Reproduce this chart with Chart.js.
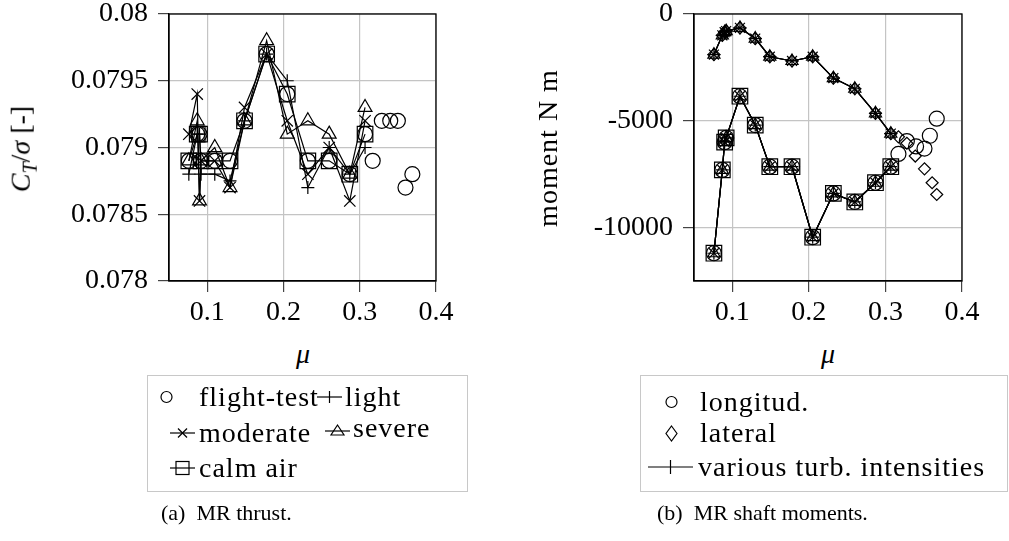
<!DOCTYPE html>
<html>
<head>
<meta charset="utf-8">
<script src="https://cdn.jsdelivr.net/npm/chart.js@4.4.0/dist/chart.umd.min.js"></script>
<style>
body { margin: 0; background: #fff; }
#page { position: relative; width: 1009px; height: 541px; overflow: hidden; font-family: 'Liberation Serif', 'DejaVu Serif', 'Times New Roman', serif; color: #000; }
canvas { position: absolute; top: 0; }
.lbl { position: absolute; font-size: 28px; line-height: 32px; white-space: nowrap; }
.leg { letter-spacing: 1px; }
.rot { transform: translate(-50%, -50%) rotate(-90deg); }
.cap { position: absolute; font-size: 22px; line-height: 24px; white-space: nowrap; }
.box { position: absolute; border: 1px solid #c8c8c8; }
svg { position: absolute; overflow: visible; }
</style>
</head>
<body>
<div id="page">
  <canvas id="grafico01" width="480" height="330" style="left:0px"></canvas>
  <canvas id="grafico02" width="509" height="330" style="left:500px"></canvas>

  <div class="lbl rot" style="left:25px; top:149px"><i>C</i><sub style="font-size:20px"><i>T</i></sub>/<i>σ</i> [-]</div>
  <div class="lbl" style="left:296px; top:338px"><i>μ</i></div>
  <div class="lbl rot leg" style="left:548px; top:148px">moment N m</div>
  <div class="lbl" style="left:821px; top:338px"><i>μ</i></div>

  <!-- legend (a) -->
  <div class="box" style="left:147px; top:375px; width:319px; height:115px"></div>
  <svg style="left:0; top:0" width="1009" height="541">
    <g fill="none" stroke="#000" stroke-width="1.2">
      <circle cx="166.5" cy="397" r="5.5"/>
      <line x1="317" y1="397" x2="342" y2="397"/><line x1="329.5" y1="391" x2="329.5" y2="403"/>
      <line x1="170" y1="433" x2="195" y2="433"/><line x1="178" y1="428.5" x2="187" y2="437.5"/><line x1="178" y1="437.5" x2="187" y2="428.5"/>
      <line x1="325" y1="431" x2="350" y2="431"/><path d="M337.5 425 L344 435 L331 435 Z"/>
      <line x1="170" y1="468" x2="195" y2="468"/><rect x="176" y="461.5" width="13" height="13"/>
      <circle cx="671.5" cy="402" r="5.5"/>
      <path d="M671.5 426 L677 433.5 L671.5 441 L666 433.5 Z"/>
      <line x1="648" y1="467" x2="693" y2="467"/><line x1="670.5" y1="460" x2="670.5" y2="474"/>
    </g>
  </svg>
  <div class="lbl leg" style="left:199px; top:381px">flight-test</div>
  <div class="lbl leg" style="left:345px; top:381px">light</div>
  <div class="lbl leg" style="left:199px; top:417px">moderate</div>
  <div class="lbl leg" style="left:353px; top:412px">severe</div>
  <div class="lbl leg" style="left:199px; top:452px">calm air</div>
  <div class="cap" style="left:161px; top:501px">(a)&nbsp; MR thrust.</div>

  <!-- legend (b) -->
  <div class="box" style="left:640px; top:375px; width:366px; height:115px"></div>
  <div class="lbl leg" style="left:700px; top:386px">longitud.</div>
  <div class="lbl leg" style="left:700px; top:417px">lateral</div>
  <div class="lbl leg" style="left:698px; top:451px">various turb. intensities</div>
  <div class="cap" style="left:657px; top:501px">(b)&nbsp; MR shaft moments.</div>
</div>

<script>
// advance ratio of the simulated points
var mu = [0.076, 0.087, 0.090, 0.092, 0.110, 0.130, 0.149, 0.178, 0.205, 0.232, 0.260, 0.287, 0.307];

// (a) thrust coefficient
var muFlight = [0.076, 0.087, 0.090, 0.092, 0.110, 0.130, 0.149, 0.178, 0.205, 0.232, 0.260, 0.287, 0.307, 0.317, 0.329, 0.340, 0.350, 0.360, 0.369];
var thrustFlight = [0.0789, 0.0791, 0.0791, 0.0789, 0.0789, 0.0789, 0.0792, 0.0797, 0.0794, 0.0789, 0.0789, 0.0788, 0.0791, 0.0789, 0.0792, 0.0792, 0.0792, 0.0787, 0.0788];
var thrustLight = [0.0788, 0.0791, 0.0791, 0.0788, 0.0788, 0.07875, 0.0792, 0.0797, 0.0795, 0.0787, 0.0790, 0.0788, 0.0790];
var thrustModerate = [0.0791, 0.0794, 0.0786, 0.0789, 0.0789, 0.0787, 0.0793, 0.0797, 0.0792, 0.0788, 0.0790, 0.0786, 0.0792];
var thrustSevere = [0.0789, 0.0792, 0.0786, 0.0789, 0.0790, 0.0787, 0.0792, 0.0798, 0.0791, 0.0792, 0.0791, 0.0788, 0.0793];
var thrustCalm = [0.0789, 0.0791, 0.0791, 0.0789, 0.0789, 0.0789, 0.0792, 0.0797, 0.0794, 0.0789, 0.0789, 0.0788, 0.0791];

// (b) shaft moments
var muLonFlight = [0.076, 0.087, 0.090, 0.092, 0.110, 0.130, 0.149, 0.178, 0.205, 0.232, 0.260, 0.287, 0.307, 0.317, 0.328, 0.340, 0.351, 0.358, 0.367];
var momentLonFlight = [-11200, -7300, -6000, -5800, -3850, -5200, -7150, -7150, -10450, -8400, -8800, -7900, -7150, -6550, -5950, -6200, -6300, -5700, -4900];
var muLatFlight = [0.076, 0.087, 0.090, 0.092, 0.110, 0.130, 0.149, 0.178, 0.205, 0.232, 0.260, 0.287, 0.307, 0.317, 0.328, 0.339, 0.351, 0.361, 0.367];
var momentLatFlight = [-1900, -1000, -850, -800, -650, -1150, -2000, -2200, -2000, -3000, -3500, -4650, -5600, -5750, -6050, -6650, -7250, -7900, -8450];
var momentLonTurb = [-11200, -7300, -6000, -5800, -3850, -5200, -7150, -7150, -10450, -8400, -8800, -7900, -7150];
var momentLatTurb = [-1900, -1000, -850, -800, -650, -1150, -2000, -2200, -2000, -3000, -3500, -4650, -5600];

// tick values
var muTicks = [0.1, 0.2, 0.3, 0.4];
var thrustTicks = [0.078, 0.0785, 0.079, 0.0795, 0.08];
var momentTicks = [-10000, -5000, 0];

Chart.defaults.font.family = "'Liberation Serif', 'DejaVu Serif', 'Times New Roman', serif";
Chart.defaults.font.size = 28;
Chart.defaults.color = '#000';

function pts(xs, ys) {
    return xs.map(function (x, i) { return { x: x, y: ys[i] }; });
}

function serie(xs, ys, style, r, line) {
    return {
        data: pts(xs, ys),
        showLine: line,
        borderColor: '#000',
        backgroundColor: 'rgba(0,0,0,0)',
        borderWidth: 1.2,
        pointStyle: style,
        pointRadius: r,
        pointBorderWidth: 1.2,
        pointBorderColor: '#000',
        pointBackgroundColor: 'rgba(0,0,0,0)'
    };
}

var frame = {
    id: 'frame',
    afterDraw: function (chart) {
        var a = chart.chartArea, c = chart.ctx;
        c.save();
        c.strokeStyle = '#000';
        c.lineWidth = 1.3;
        c.strokeRect(a.left, a.top, a.right - a.left, a.bottom - a.top);
        c.restore();
    }
};

function scales(yTicks, ymin, ymax, yWidth, fmt) {
    return {
        x: {
            type: 'linear', min: 0.05, max: 0.4,
            afterBuildTicks: function (s) { s.ticks = muTicks.map(function (v) { return { value: v }; }); },
            afterFit: function (s) { s.height = 49; s.paddingLeft = 0; s.paddingRight = 0; },
            grid: { color: '#c4c4c4', lineWidth: 1.2, tickLength: 11, tickColor: '#444', tickWidth: 1.2 },
            border: { color: '#000', width: 1.3 },
            ticks: { padding: 4, maxRotation: 0, callback: function (v) { return String(v); } }
        },
        y: {
            type: 'linear', min: ymin, max: ymax,
            afterBuildTicks: function (s) { s.ticks = yTicks.map(function (v) { return { value: v }; }); },
            afterFit: function (s) { s.width = yWidth; s.paddingTop = 0; s.paddingBottom = 0; },
            grid: { color: '#c4c4c4', lineWidth: 1.2, tickLength: 11, tickColor: '#444', tickWidth: 1.2 },
            border: { color: '#000', width: 1.3 },
            ticks: { padding: 10, callback: fmt }
        }
    };
}

var ctx = document.getElementById('grafico01');
var myChart = new Chart(ctx, {
    type: 'scatter',
    data: {
        datasets: [
            serie(mu, thrustLight, 'cross', 6.5, true),
            serie(mu, thrustModerate, 'crossRot', 8, true),
            serie(mu, thrustSevere, 'triangle', 8, true),
            serie(mu, thrustCalm, 'rect', 11, true),
            serie(muFlight, thrustFlight, 'circle', 7.5, false)
        ]
    },
    options: {
        responsive: false,
        animation: false,
        layout: { padding: { left: 0, top: 14, right: 44, bottom: 0 } },
        plugins: { legend: { display: false }, tooltip: { enabled: false } },
        scales: scales(thrustTicks, 0.078, 0.08, 169, function (v) { return String(Number(v.toFixed(4))); })
    },
    plugins: [frame]
});

var ctx = document.getElementById('grafico02');
var myChart = new Chart(ctx, {
    type: 'scatter',
    data: {
        datasets: [
            serie(mu, momentLatTurb, 'cross', 6.5, true),
            serie(mu, momentLatTurb, 'crossRot', 7, true),
            serie(mu, momentLatTurb, 'triangle', 7, true),
            serie(mu, momentLonTurb, 'cross', 6.5, true),
            serie(mu, momentLonTurb, 'crossRot', 7, true),
            serie(mu, momentLonTurb, 'triangle', 7, true),
            serie(mu, momentLonTurb, 'rect', 11, true),
            serie(muLonFlight, momentLonFlight, 'circle', 7.5, false),
            serie(muLatFlight, momentLatFlight, 'rectRot', 6, false)
        ]
    },
    options: {
        responsive: false,
        animation: false,
        layout: { padding: { left: 0, top: 14, right: 47, bottom: 0 } },
        plugins: { legend: { display: false }, tooltip: { enabled: false } },
        scales: scales(momentTicks, -12500, 0, 194, function (v) { return String(v); })
    },
    plugins: [frame]
});
</script>
</body>
</html>
